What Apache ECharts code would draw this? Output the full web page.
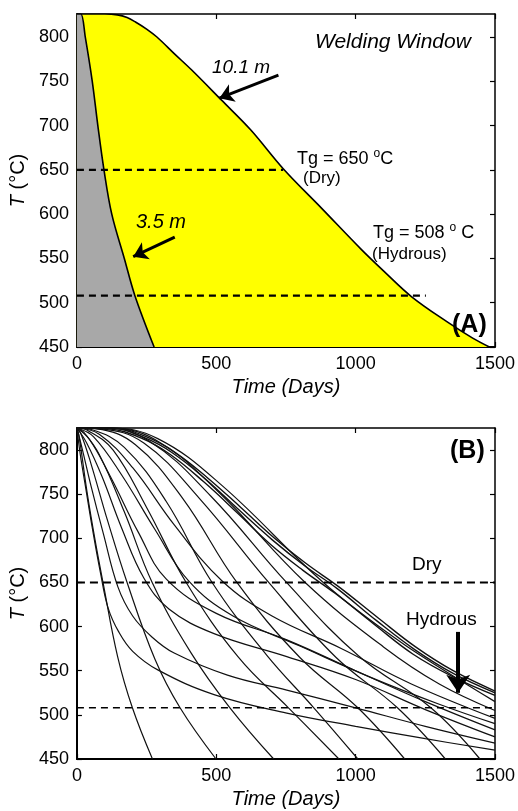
<!DOCTYPE html>
<html>
<head>
<meta charset="utf-8">
<title>Welding window and cooling curves</title>
<script src="https://cdn.jsdelivr.net/npm/echarts@6.0.0/dist/echarts.min.js"></script>
<style>
  html, body { margin: 0; padding: 0; background: #fff; }
  #chart { width: 518px; height: 811px; }
</style>
</head>
<body>
<div id="chart"></div>
<script>
// ---------- tick values ----------
const timeTicks = [0, 500, 1000, 1500];
const tempTicks = [450, 500, 550, 600, 650, 700, 750, 800];

// ---------- Panel A: 10.1 m and 3.5 m sheets (time in days, T in °C) ----------
const sheet10m = [[0, 826], [100, 826], [145, 825], [180, 822], [210, 817], [250, 809], [287, 800],
  [350, 781], [411, 763], [518, 729], [624, 695], [741, 651], [880, 606], [1021, 560],
  [1100, 536], [1200, 507], [1330, 478], [1420, 460], [1480, 450]];
const sheet3m = [[0, 826], [14, 826], [30, 800], [55, 750], [75, 700], [97, 650], [125, 600],
  [170, 550], [208, 508], [277, 450]];
const tgDry = 650;
const tgHydrous = 508;
const dryLineA = [[0, tgDry], [740, tgDry]];
const hydrousLineA = [[0, tgHydrous], [1252, tgHydrous]];
const arrow10m = [[723, 757], [511, 731]];
const arrow3m = [[351, 574], [202, 552]];

// ---------- Panel B: family of cooling curves ----------
const curveL1 = [[0, 825], [8, 815], [36, 753], [64, 700], [93, 651], [146, 566], [199, 508], [271, 450]];
const curveL2 = [[0, 825], [15, 818], [50, 785], [110, 720], [180, 650], [280, 563], [370, 508], [499, 450]];
const curveL3 = [[0, 825], [25, 820], [80, 795], [170, 730], [270, 650], [410, 570], [549, 508], [706, 450]];
const curveL4 = [[0, 825], [40, 822], [130, 800], [250, 735], [392, 650], [580, 565], [759, 508], [940, 450]];
const curveL5 = [[0, 825], [55, 823], [170, 803], [320, 742], [485, 650], [680, 568], [850, 508], [1008, 450]];
const curveL6 = [[0, 825], [70, 824], [210, 806], [380, 745], [574, 650], [800, 565], [1008, 508], [1176, 450]];
const curveL7 = [[0, 825], [85, 824], [240, 808], [440, 745], [688, 650], [930, 565], [1150, 508], [1322, 450]];
const curveL8 = [[0, 825], [95, 825], [260, 810], [480, 748], [752, 650], [1010, 567], [1270, 508], [1446, 450]];
const curveG1 = [[0, 825], [105, 825], [280, 812], [500, 755], [819, 650], [1100, 577], [1300, 535], [1500, 505]];
const curveG2 = [[0, 825], [115, 825], [290, 813], [520, 760], [884, 650], [1150, 585], [1330, 548], [1500, 515]];
const curveK3 = [[0, 825], [112, 824], [235, 813], [335, 795], [455, 764], [575, 729], [695, 693], [810, 664],
  [925, 638], [1065, 603], [1205, 569], [1350, 543], [1500, 522]];
const curveK2 = [[0, 825], [120, 825], [242, 814], [342, 797], [462, 767], [582, 732], [702, 698], [817, 669],
  [934, 643], [1074, 607], [1212, 574], [1350, 547], [1500, 525]];
const curveK1 = [[0, 825], [130, 825], [250, 815], [349, 798], [467, 769], [588, 735], [706, 701], [820, 672],
  [940, 645], [1080, 610], [1215, 577], [1350, 550], [1500, 527]];
const curveF1 = [[0, 825], [12, 795], [30, 760], [55, 712], [85, 660], [112, 621], [150, 594], [200, 572],
  [290, 551], [492, 523], [753, 502], [1000, 487], [1250, 473], [1500, 460]];
const curveF2 = [[0, 825], [20, 800], [50, 760], [95, 705], [147, 645], [200, 612], [270, 588], [349, 570],
  [540, 545], [753, 528], [1000, 508], [1250, 487], [1500, 468]];
const curveF3 = [[0, 825], [35, 808], [90, 770], [160, 712], [240, 655], [330, 620], [492, 592], [753, 566],
  [1000, 540], [1250, 506], [1500, 475]];
const curveF4 = [[0, 825], [45, 812], [120, 770], [220, 707], [320, 654], [500, 615], [753, 585], [1000, 550],
  [1250, 515], [1500, 483]];
const curveF5 = [[0, 825], [60, 815], [160, 772], [280, 710], [400, 652], [560, 612], [800, 578], [1050, 543],
  [1300, 512], [1500, 490]];
const curveF6 = [[0, 825], [80, 818], [200, 780], [350, 715], [520, 652], [700, 612], [950, 575], [1200, 535],
  [1500, 496]];
const steepCurves = [curveL1, curveL2, curveL3, curveL4, curveL5, curveL6, curveL7, curveL8,
  curveG1, curveG2, curveF1, curveF2, curveF3, curveF4, curveF5, curveF6];
const clusterCurves = [curveK3, curveK2, curveK1];
const dryLineB = [[0, tgDry], [1500, tgDry]];
const hydrousLineB = [[0, tgHydrous], [1500, tgHydrous]];
const arrowHydrous = [[1368, 594], [1368, 525]];

// ---------- styling ----------
const FONT = '"Liberation Sans", Arial, Helvetica, sans-serif';
const INK = '#000';

function timeAxis(gridIndex, atTop) {
  return {
    type: 'value', gridIndex, position: atTop ? 'top' : 'bottom',
    min: 0, max: 1500, interval: 500,
    axisLine: { show: true, onZero: false, lineStyle: { color: INK, width: atTop ? 1.5 : 2 } },
    axisTick: { show: true, inside: true, length: 5, lineStyle: { color: INK, width: 1.2 } },
    axisLabel: atTop ? { show: false } : {
      show: true, color: INK, fontSize: 18, fontFamily: FONT, margin: 8,
      customValues: timeTicks, formatter: function (v) { return String(v); }
    },
    splitLine: { show: false },
    name: atTop ? '' : 'Time (Days)',
    nameLocation: 'middle', nameGap: 30,
    nameTextStyle: { color: INK, fontSize: 20, fontStyle: 'italic', fontFamily: FONT }
  };
}

function tempAxis(gridIndex, maxT, atRight) {
  return {
    type: 'value', gridIndex, position: atRight ? 'right' : 'left',
    min: 450, max: maxT, interval: 50,
    axisLine: { show: true, onZero: false, lineStyle: { color: INK, width: atRight ? 1.5 : 2 } },
    axisTick: { show: true, inside: true, length: 5, lineStyle: { color: INK, width: 1.2 },
      customValues: tempTicks },
    axisLabel: atRight ? { show: false } : {
      show: true, color: INK, fontSize: 18, fontFamily: FONT, margin: 8,
      customValues: tempTicks, formatter: function (v) { return String(v); }
    },
    splitLine: { show: false },
    name: atRight ? '' : '{it|T} (°C)',
    nameLocation: 'middle', nameGap: 46, nameRotate: 90,
    nameTextStyle: { color: INK, fontSize: 20, fontFamily: FONT,
      rich: { it: { fontStyle: 'italic', fontSize: 20, fontFamily: FONT, color: INK } } }
  };
}

function dashed(data, xi, yi, width, dash) {
  return {
    type: 'line', data, xAxisIndex: xi, yAxisIndex: yi, showSymbol: false, silent: true, z: 5,
    lineStyle: { color: INK, width, type: dash }
  };
}

function arrow(from, to, xi, yi, width, size) {
  return {
    type: 'line', data: [], xAxisIndex: xi, yAxisIndex: yi, silent: true, z: 6,
    markLine: {
      silent: true, symbol: ['none', 'arrow'], symbolSize: size, animation: false,
      label: { show: false },
      lineStyle: { color: INK, width, type: 'solid' },
      emphasis: { disabled: true },
      data: [[{ coord: from }, { coord: to }]]
    }
  };
}

const series = [
  {
    type: 'line', data: sheet10m, xAxisIndex: 0, yAxisIndex: 0, showSymbol: false, silent: true,
    smooth: 0.35, z: 2, lineStyle: { color: INK, width: 1.6 },
    areaStyle: { color: '#ffff00', opacity: 1 }
  },
  {
    type: 'line', data: sheet3m, xAxisIndex: 0, yAxisIndex: 0, showSymbol: false, silent: true,
    smooth: 0.35, z: 3, lineStyle: { color: INK, width: 1.6 },
    areaStyle: { color: '#a8a8a8', opacity: 1 }
  },
  dashed(dryLineA, 0, 0, 2.2, [7, 5]),
  dashed(hydrousLineA, 0, 0, 2.2, [7, 5]),
  arrow(arrow10m[0], arrow10m[1], 0, 0, 3, 14),
  arrow(arrow3m[0], arrow3m[1], 0, 0, 3, 14),
  dashed(dryLineB, 2, 2, 2, [8, 5]),
  dashed(hydrousLineB, 2, 2, 1.6, [7, 5]),
  arrow(arrowHydrous[0], arrowHydrous[1], 2, 2, 4, 18)
];
steepCurves.forEach(function (c) {
  series.push({
    type: 'line', data: c, xAxisIndex: 2, yAxisIndex: 2, showSymbol: false, silent: true,
    smooth: 0.4, z: 3, lineStyle: { color: '#111', width: 1.2 }
  });
});
clusterCurves.forEach(function (c) {
  series.push({
    type: 'line', data: c, xAxisIndex: 2, yAxisIndex: 2, showSymbol: false, silent: true,
    smooth: 0.4, z: 3, lineStyle: { color: '#111', width: 1.4 }
  });
});

function label(x, y, text, font, extra) {
  return {
    type: 'text', x, y, silent: true, z: 10,
    style: Object.assign({ text, font, fill: INK, verticalAlign: 'middle', align: 'left' }, extra || {})
  };
}
const supRich = {
  s: { fontSize: 12, fontFamily: FONT, verticalAlign: 'top', lineHeight: 12, fill: INK }
};

const option = {
  animation: false,
  backgroundColor: '#fff',
  grid: [
    { left: 74, top: 14, width: 423, height: 333, containLabel: false },
    { left: 76, top: 428, width: 421, height: 331, containLabel: false }
  ],
  xAxis: [timeAxis(0, false), timeAxis(0, true), timeAxis(1, false), timeAxis(1, true)],
  yAxis: [tempAxis(0, 826, false), tempAxis(0, 826, true), tempAxis(1, 825, false), tempAxis(1, 825, true)],
  series,
  graphic: [
    label(315, 42, 'Welding Window', 'italic 21px ' + FONT),
    label(212, 68, '10.1 m', 'italic 19px ' + FONT),
    label(136, 222, '3.5 m', 'italic 20px ' + FONT),
    label(297, 159, 'Tg = 650 {s|o}C', '18px ' + FONT, { rich: supRich, lineHeight: 22 }),
    label(303, 178, '(Dry)', '17px ' + FONT),
    label(373, 233, 'Tg = 508 {s|o} C', '18px ' + FONT, { rich: supRich, lineHeight: 22 }),
    label(372, 254, '(Hydrous)', '17px ' + FONT),
    label(452, 325, '(A)', 'bold 25px ' + FONT),
    label(450, 451, '(B)', 'bold 25px ' + FONT),
    label(412, 565, 'Dry', '19px ' + FONT),
    label(406, 620, 'Hydrous', '19px ' + FONT)
  ]
};

const chart = echarts.init(document.getElementById('chart'), null, { renderer: 'canvas' });
chart.setOption(option);
</script>
</body>
</html>
